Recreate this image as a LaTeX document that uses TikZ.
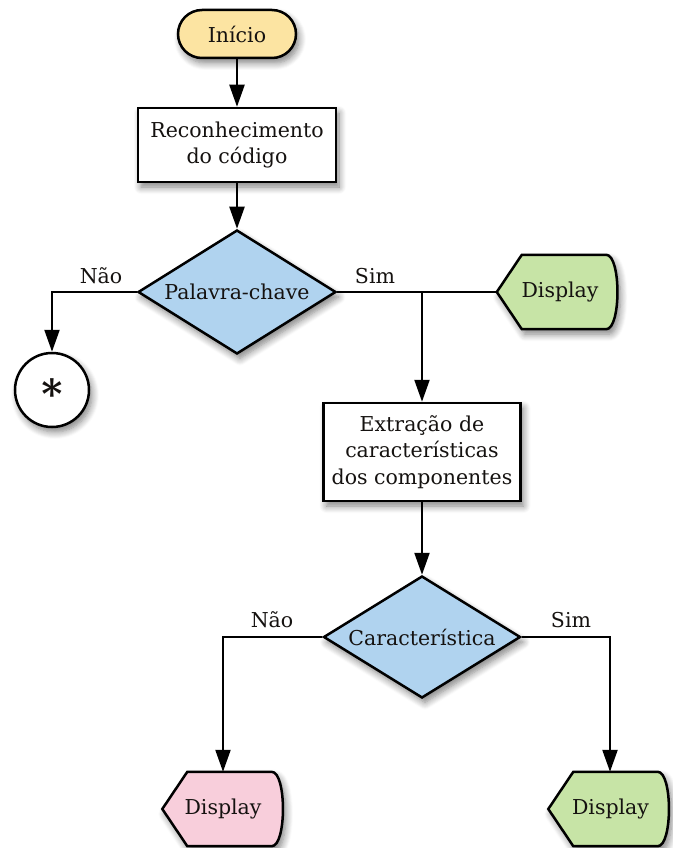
\documentclass[tikz,border=0pt]{standalone}
\usepackage{fontspec}
\setmainfont{DejaVu Serif}
\usetikzlibrary{shapes.geometric,arrows.meta,shadows.blur,backgrounds,calc}

\definecolor{startfill}{HTML}{FCE4A2}
\definecolor{decfill}{HTML}{B0D3EF}
\definecolor{okfill}{HTML}{C7E4A6}
\definecolor{nofill}{HTML}{F8CEDB}
\definecolor{ink}{HTML}{151210}

\tikzset{
  base/.style={font=\fontsize{20.5}{26.5}\selectfont, text=ink, align=center},
  softshadow/.style={blur shadow={shadow xshift=3pt, shadow yshift=-5pt,
      shadow blur steps=8, shadow blur radius=7pt, shadow opacity=50}},
  outline/.style={draw=black, line width=2.5pt},
  terminal/.style={base, outline, softshadow, fill=startfill,
      rectangle, rounded corners=24pt, minimum width=118pt, minimum height=48pt},
  process/.style={base, outline, softshadow, fill=white, rectangle, inner sep=0pt},
  decision/.style={base, outline, softshadow, fill=decfill, diamond,
      shape aspect=1.6, inner sep=0pt},
  connector/.style={base, outline, softshadow, fill=white, circle,
      minimum size=74pt, inner sep=0pt},
  displaybox/.style={base, rectangle, minimum width=121pt, minimum height=74pt,
      inner sep=0pt},
  flow/.style={draw=black, line width=2.2pt, -{Triangle[length=22pt,width=15pt]}},
  plain/.style={draw=black, line width=2.2pt},
  branchlabel/.style={base, inner sep=0pt},
  bigstar/.style={font=\fontsize{40}{40}\selectfont\bfseries}
}

% outline of a display symbol: pointed left end, slightly bulged right side
\newcommand\displayoutline[2]{%
  \path[outline, fill=#2, softshadow]
    (#1.west) -- ([xshift=25pt]#1.north west) -- ([xshift=-12pt]#1.north east)
    .. controls ([xshift=3pt]#1.north east) and ([xshift=3pt]#1.south east)
    .. ([xshift=-12pt]#1.south east) -- ([xshift=25pt]#1.south west) -- cycle;}

\begin{document}
\begin{tikzpicture}[x=1pt, y=-1pt]
  \useasboundingbox (0,0) rectangle (672,848);

  % main column
  \node[terminal] (start) at (237,34) {Início};
  \node[process, minimum width=198pt, minimum height=74pt] (recog) at (237,145)
      {Reconhecimento\\do código};
  \node[decision, minimum width=198pt, minimum height=124pt] (kw) at (237,292)
      {Palavra-chave};
  \node[connector, bigstar] (star) at (52,390) {∗};

  \node[displaybox] (dispA) at (557.5,292) {\hspace*{5pt}Display};

  \node[process, minimum width=197pt, minimum height=98pt] (extract) at (422,452)
      {Extração de\\características\\dos componentes};
  \node[decision, minimum width=197pt, minimum height=122pt] (feat) at (422,637)
      {Característica};

  \node[displaybox] (dispB) at (223,809) {Display};
  \node[displaybox] (dispC) at (609,809) {\hspace*{3pt}Display};

  \begin{scope}[on background layer]
    \displayoutline{dispA}{okfill}
    \displayoutline{dispB}{nofill}
    \displayoutline{dispC}{okfill}
  \end{scope}

  % connectors
  \draw[flow] (start) -- (recog);
  \draw[flow] (recog) -- (kw);
  \draw[flow] (kw.west) -| (star.north);
  \draw[plain] (kw.east) -- (dispA.west);
  \coordinate (split) at (extract.north |- kw.east);
  \draw[flow] (split) -- (extract.north);
  \draw[flow] (extract) -- (feat);
  \draw[flow] (feat.west) -| (dispB.north);
  \draw[flow] (feat.east) -| ([xshift=1pt]dispC.north);

  % branch labels
  \node[branchlabel] (noA) at (101,276) {Não};
  \node[branchlabel] (yesA) at (375,276) {Sim};
  \node[branchlabel] (noB) at (272,620) {Não};
  \node[branchlabel] (yesB) at (571,620) {Sim};
\end{tikzpicture}
\end{document}
